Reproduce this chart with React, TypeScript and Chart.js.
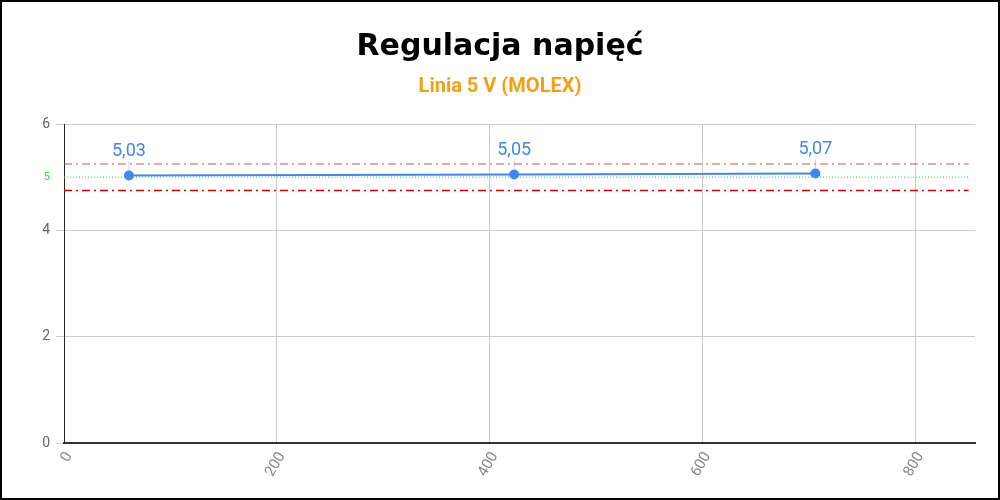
import React, { useEffect, useRef } from "react";
import { Chart, registerables } from "chart.js";

Chart.register(...registerables);

const TITLE = "Regulacja napięć";
const SUBTITLE = "Linia 5 V (MOLEX)";
const loadX = [61, 423, 706];
const voltage = [5.03, 5.05, 5.07];
const pointLabels = ["5,03", "5,05", "5,07"];
const nominal = 5;
const upperLimit = 5.25;
const lowerLimit = 4.75;
const refXRange = [0, 850];
const xTicks = [0, 200, 400, 600, 800];
const yTicks = [0, 2, 4, 5, 6];
const X_MAX = 856;
const Y_MAX = 6;

const BLUE = "#4285f4";
const GREEN = "#33dd33";

const overlayPlugin = {
  id: "overlay",
  afterDatasetsDraw(chart: any) {
    const ctx = chart.ctx;
    const meta = chart.getDatasetMeta(3);
    ctx.save();
    ctx.font = "18px Roboto";
    ctx.fillStyle = BLUE;
    ctx.textAlign = "center";
    ctx.textBaseline = "middle";
    meta.data.forEach((pt: any, i: number) => {
      ctx.strokeStyle = "rgba(180,180,180,0.6)";
      ctx.lineWidth = 1;
      ctx.beginPath();
      ctx.moveTo(pt.x, pt.y - 5);
      ctx.lineTo(pt.x, pt.y - 14);
      ctx.stroke();
      ctx.fillText(pointLabels[i], pt.x, pt.y - 24);
    });
    ctx.restore();
  },
  afterDraw(chart: any) {
    const ctx = chart.ctx;
    ctx.save();
    ctx.textAlign = "center";
    ctx.textBaseline = "middle";
    ctx.fillStyle = "#000";
    ctx.font = "bold 30px 'DejaVu Sans'";
    ctx.fillText(TITLE, 500, 47);
    ctx.fillStyle = "#f4a012";
    ctx.font = "bold 20px Roboto";
    ctx.fillText(SUBTITLE, 500, 87);
    ctx.strokeStyle = "#000";
    ctx.lineWidth = 2;
    ctx.strokeRect(1, 1, chart.width - 2, chart.height - 2);
    ctx.restore();
  },
};

export default function App() {
  const ref = useRef<HTMLCanvasElement>(null);
  useEffect(() => {
    document.body.style.margin = "0";
    const refLine = (y: number) =>
      refXRange.map((x) => ({ x, y }));
    const chart = new Chart(ref.current!, {
      type: "line",
      data: {
        datasets: [
          {
            data: refLine(upperLimit),
            borderColor: "rgba(204,60,60,0.6)",
            borderWidth: 1.5,
            borderDash: [8, 4, 2, 4],
            pointRadius: 0,
          },
          {
            data: refLine(lowerLimit),
            borderColor: "#cc0000",
            borderWidth: 1.5,
            borderDash: [8, 4, 2, 4],
            pointRadius: 0,
          },
          {
            data: refLine(nominal),
            borderColor: GREEN,
            borderWidth: 1,
            borderDash: [1, 2],
            pointRadius: 0,
          },
          {
            data: loadX.map((x, i) => ({ x, y: voltage[i] })),
            borderColor: BLUE,
            backgroundColor: BLUE,
            borderWidth: 2,
            pointRadius: 5,
            pointBorderWidth: 0,
          },
        ],
      },
      options: {
        animation: false,
        responsive: false,
        layout: { padding: { left: 10, right: 25, top: 124, bottom: 10 } },
        plugins: { legend: { display: false }, tooltip: { enabled: false } },
        scales: {
          x: {
            type: "linear",
            min: 0,
            max: X_MAX,
            afterBuildTicks: (s: any) => {
              s.ticks = xTicks.map((v) => ({ value: v }));
            },
            afterFit: (s: any) => {
              s.height = 47;
            },
            grid: { color: "#cccccc", drawTicks: false },
            border: { color: "#333", width: 2 },
            ticks: {
              minRotation: 60,
              maxRotation: 60,
              padding: 6,
              labelOffset: 5,
              color: "#888",
              font: { family: "Roboto", size: 15 },
            },
          },
          y: {
            min: 0,
            max: Y_MAX,
            afterBuildTicks: (s: any) => {
              s.ticks = yTicks.map((v) => ({ value: v }));
            },
            afterFit: (s: any) => {
              s.width = 54;
            },
            grid: {
              color: (c: any) => (c.tick && c.tick.value === nominal ? "rgba(0,0,0,0)" : "#cccccc"),
              tickColor: (c: any) => (c.tick && c.tick.value === nominal ? "rgba(0,0,0,0)" : "#cccccc"),
              tickLength: 8,
            },
            border: { color: "#222", width: 1 },
            ticks: {
              padding: 6,
              color: (c: any) => (c.tick && c.tick.value === nominal ? GREEN : "#666"),
              font: (c: any) =>
                c.tick && c.tick.value === nominal
                  ? { family: "Roboto", size: 11 }
                  : { family: "Roboto", size: 14 },
            },
          },
        },
      },
      plugins: [overlayPlugin],
    } as any);
    return () => chart.destroy();
  }, []);
  return <canvas ref={ref} width={1000} height={500} style={{ display: "block" }} />;
}
